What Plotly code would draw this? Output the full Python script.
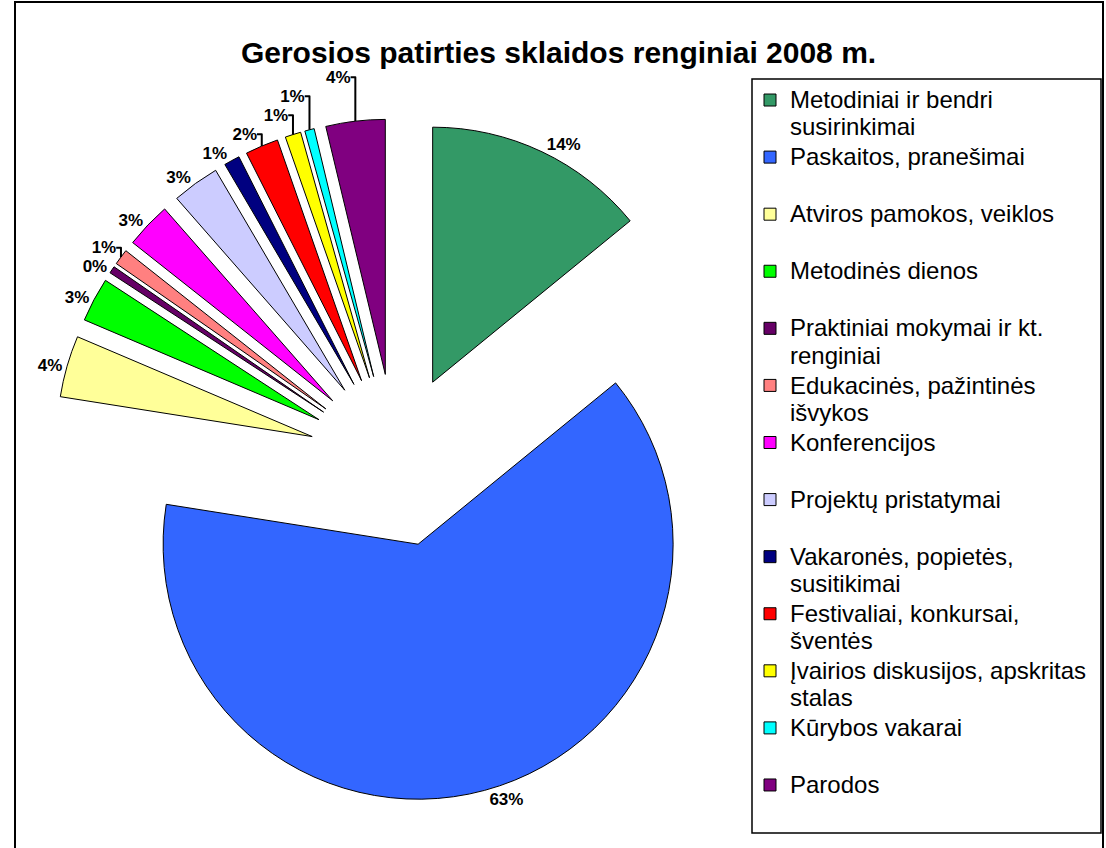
import plotly.graph_objects as go

categories = [
    "Metodiniai ir bendri<br>susirinkimai",
    "Paskaitos, pranešimai",
    "Atviros pamokos, veiklos",
    "Metodinės dienos",
    "Praktiniai mokymai ir kt.<br>renginiai",
    "Edukacinės, pažintinės<br>išvykos",
    "Konferencijos",
    "Projektų pristatymai",
    "Vakaronės, popietės,<br>susitikimai",
    "Festivaliai, konkursai,<br>šventės",
    "Įvairios diskusijos, apskritas<br>stalas",
    "Kūrybos vakarai",
    "Parodos",
]
values = [14.1, 63.4, 3.9, 2.8, 0.45, 1.0, 2.9, 3.0, 1.0, 2.1, 1.0, 0.6, 3.75]
colors = ["#339966", "#3366FF", "#FFFF99", "#00FF00", "#660066", "#FF8080",
          "#FF00FF", "#CCCCFF", "#000080", "#FF0000", "#FFFF00", "#00FFFF", "#800080"]
title_text = "Gerosios patirties sklaidos renginiai 2008 m."

FONT = "Liberation Sans, Arial, sans-serif"

def legend_label(c):
    parts = c.split("<br>")
    if len(parts) == 1:
        parts.append("\u00a0")
    return "<br>".join('<span style="font-size:24px">%s</span>' % p for p in parts)

labels = [legend_label(c) for c in categories]

fig = go.Figure(go.Pie(
    labels=labels,
    values=values,
    sort=False,
    direction="clockwise",
    rotation=0,
    pull=[0.34] * len(values),
    marker=dict(colors=colors, line=dict(color="black", width=1)),
    texttemplate="%{percent:.0%}",
    textposition="outside",
    outsidetextfont=dict(family=FONT, size=17, color="black", weight="bold"),
    domain=dict(x=[0.04864, 0.66655], y=[0.05401, 0.85991]),
    automargin=False,
    hoverinfo="label+percent",
))

fig.update_layout(
    width=1106, height=848,
    margin=dict(l=0, r=0, t=0, b=0),
    paper_bgcolor="white",
    plot_bgcolor="white",
    font=dict(family=FONT, color="black"),
    title=dict(text=title_text, x=0.505, xanchor="center", y=1 - 52 / 848, yanchor="middle",
               font=dict(family=FONT, size=30, color="black", weight="bold")),
    showlegend=True,
    legend=dict(
        x=750 / 1106, xanchor="left",
        y=1 - 80 / 848, yanchor="top",
        valign="top",
        font=dict(family=FONT, size=20.8, color="black"),
        bgcolor="rgba(0,0,0,0)",
        borderwidth=0,
        traceorder="normal",
    ),
    shapes=[
        dict(type="rect", xref="paper", yref="paper",
             x0=15 / 1106, x1=1103 / 1106, y0=-0.01, y1=1 - 2 / 848,
             line=dict(color="black", width=2), layer="below"),
        dict(type="rect", xref="paper", yref="paper",
             x0=752 / 1106, x1=1101 / 1106, y0=1 - 833 / 848, y1=1 - 79 / 848,
             line=dict(color="black", width=1.5), layer="below"),
    ],
)

fig.write_html("out.html", config={"displayModeBar": False},
               post_script="document.body.style.margin='0';")
